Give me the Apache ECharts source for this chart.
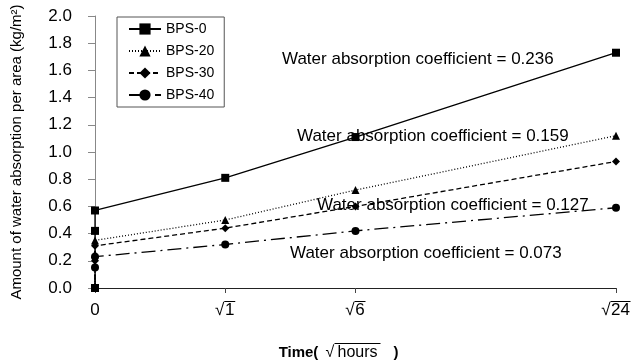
<!DOCTYPE html>
<html>
<head>
<meta charset="utf-8">
<script src="https://cdn.jsdelivr.net/npm/echarts@6/dist/echarts.min.js"></script>
<style>
  html, body { margin: 0; padding: 0; background: #fff; }
  #main { width: 635px; height: 362px; }
</style>
</head>
<body>
<div id="main"></div>
<script>
// x positions on the axis (0, √1, √6, √24)
var xPos = [0, 0, 0, 1, 2, 4];
var tickValues = [0, 1, 2, 4];
var tickLabels = { 0: '0', 1: '1', 2: '6', 4: '24' };

// water absorption per area (kg/m2)
var bps0 = [0, 0.42, 0.57, 0.81, 1.11, 1.73];
var bps20 = [0, 0.25, 0.35, 0.50, 0.72, 1.12];
var bps30 = [0, 0.20, 0.31, 0.44, 0.60, 0.93];
var bps40 = [0, 0.15, 0.23, 0.32, 0.42, 0.59];

var seriesNames = ['BPS-0', 'BPS-20', 'BPS-30', 'BPS-40'];
var coefTexts = [
  'Water absorption coefficient = 0.236',
  'Water absorption coefficient = 0.159',
  'Water absorption coefficient = 0.127',
  'Water absorption coefficient = 0.073'
];

function pairs(vals) {
  return vals.map(function (v, i) { return [xPos[i], v]; });
}

var font = 'Liberation Sans, Arial, sans-serif';
var myChart = echarts.init(document.getElementById('main'));

function mk(name, vals, symbol, size, type, z) {
  return {
    name: name,
    type: 'line',
    data: pairs(vals),
    symbol: symbol,
    symbolSize: size,
    z: z,
    color: '#000',
    lineStyle: { color: '#000', width: 1.3, type: type },
    itemStyle: { color: '#000' }
  };
}

// rich styles: the root sign's bar is a thin filled box on a line above the digits
var lab = { fontFamily: font, fontSize: 17, color: '#000', lineHeight: 17 };
var xRich = {
  sp: { width: 9, height: 1, lineHeight: 1 },
  b1: { width: 11, height: 1, lineHeight: 1, backgroundColor: '#000' },
  b2: { width: 20, height: 1, lineHeight: 1, backgroundColor: '#000' },
  d: lab,
  r: Object.assign({ width: 9 }, lab),
  n1: Object.assign({ width: 11, align: 'left' }, lab),
  n2: Object.assign({ width: 20, align: 'left' }, lab)
};

myChart.setOption({
  animation: false,
  backgroundColor: '#fff',
  grid: { left: 95, right: 19, top: 16, bottom: 74, outerBoundsMode: 'none' },
  legend: {
    data: seriesNames,
    orient: 'vertical',
    left: 117,
    top: 17,
    padding: [5, 10, 5, 11],
    itemWidth: 32,
    itemHeight: 14,
    itemGap: 8,
    borderColor: '#555',
    borderWidth: 1,
    textStyle: { fontFamily: font, fontSize: 14, color: '#000' }
  },
  xAxis: {
    type: 'value',
    min: 0,
    max: 4,
    interval: 1,
    splitLine: { show: false },
    axisLine: { lineStyle: { color: '#222', width: 1 } },
    axisTick: { show: true, length: 5, customValues: tickValues, lineStyle: { color: '#444' } },
    axisLabel: {
      customValues: tickValues,
      formatter: function (v) {
        var t = tickLabels[v];
        if (v === 0) return '{sp| }\n{d|0}';
        var k = t.length;
        return '{sp| }{b' + k + '| }\n{r|√}{n' + k + '|' + t + '}';
      },
      margin: 13,
      rich: xRich
    },
    name: '{s1| }{bar| }{s2| }\n{t|Time(}{g| }{r|√}{n|hours}{e|)}',
    nameLocation: 'middle',
    nameGap: 55,
    nameTextStyle: {
      padding: [0, 35, 0, 0],
      rich: {
        s1: { width: 57, height: 1, lineHeight: 1 },
        bar: { width: 46, height: 1, lineHeight: 1, backgroundColor: '#000' },
        s2: { width: 18, height: 1, lineHeight: 1 },
        t: { width: 42, fontFamily: font, fontSize: 15, fontWeight: 'bold', color: '#000', lineHeight: 17 },
        g: { width: 6, fontSize: 15, lineHeight: 17 },
        r: { width: 9, fontFamily: font, fontSize: 16, color: '#000', lineHeight: 17 },
        n: { width: 46, fontFamily: font, fontSize: 16, color: '#000', lineHeight: 17 },
        e: { width: 18, align: 'right', fontFamily: font, fontSize: 15, fontWeight: 'bold', color: '#000', lineHeight: 17 }
      }
    }
  },
  yAxis: {
    type: 'value',
    min: 0,
    max: 2,
    interval: 0.2,
    splitLine: { show: false },
    axisLine: { show: true, lineStyle: { color: '#888', width: 1 } },
    axisTick: { show: true, length: 7, lineStyle: { color: '#888' } },
    axisLabel: {
      formatter: function (v) { return v.toFixed(1); },
      fontFamily: font,
      fontSize: 17,
      color: '#000',
      margin: 23
    },
    name: 'Amount of water absorption per area (kg/m²)',
    nameLocation: 'middle',
    nameRotate: 90,
    nameGap: 71,
    nameTextStyle: { fontFamily: font, fontSize: 15, color: '#000' }
  },
  graphic: [
    { type: 'text', left: 282, top: 51, style: { text: coefTexts[0], font: '17px ' + font, fill: '#000' } },
    { type: 'text', left: 297, top: 128, style: { text: coefTexts[1], font: '17px ' + font, fill: '#000' } },
    { type: 'text', left: 317, top: 197, style: { text: coefTexts[2], font: '17px ' + font, fill: '#000' } },
    { type: 'text', left: 290, top: 245, style: { text: coefTexts[3], font: '17px ' + font, fill: '#000' } }
  ],
  series: [
    mk('BPS-40', bps40, 'circle', 8, [14, 5, 2, 5], 2),
    mk('BPS-30', bps30, 'diamond', 8, [5, 3], 3),
    mk('BPS-20', bps20, 'triangle', 8, [1, 2], 4),
    mk('BPS-0', bps0, 'rect', 8, 'solid', 5)
  ]
});
</script>
</body>
</html>
